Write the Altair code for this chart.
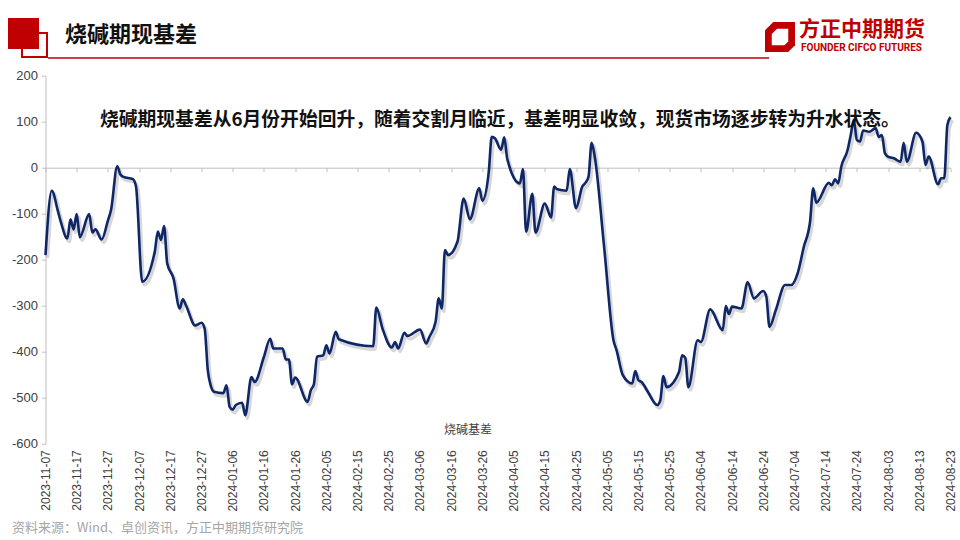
import altair as alt
import pandas as pd

# ---------------- data ----------------
dates = [
    "2023-11-07", "2023-11-09", "2023-11-11", "2023-11-12", "2023-11-14", "2023-11-15", "2023-11-16",
    "2023-11-17", "2023-11-18", "2023-11-21", "2023-11-22", "2023-11-23", "2023-11-25", "2023-11-27",
    "2023-11-28", "2023-11-30", "2023-12-01", "2023-12-02", "2023-12-05", "2023-12-06", "2023-12-08",
    "2023-12-12", "2023-12-13", "2023-12-14", "2023-12-15", "2023-12-16", "2023-12-18", "2023-12-20",
    "2023-12-21", "2023-12-22", "2023-12-25", "2023-12-27", "2023-12-28", "2023-12-29", "2023-12-30",
    "2023-12-31", "2024-01-03", "2024-01-04", "2024-01-05", "2024-01-06", "2024-01-07", "2024-01-09",
    "2024-01-10", "2024-01-12", "2024-01-13", "2024-01-16", "2024-01-18", "2024-01-19", "2024-01-22",
    "2024-01-23", "2024-01-24", "2024-01-25", "2024-01-26", "2024-01-30", "2024-01-31", "2024-02-01",
    "2024-02-02", "2024-02-04", "2024-02-05", "2024-02-06", "2024-02-08", "2024-02-09", "2024-02-20",
    "2024-02-21", "2024-02-23", "2024-02-26", "2024-02-27", "2024-02-28", "2024-03-01", "2024-03-02",
    "2024-03-06", "2024-03-08", "2024-03-09", "2024-03-11", "2024-03-12", "2024-03-13", "2024-03-14",
    "2024-03-15", "2024-03-18", "2024-03-20", "2024-03-22", "2024-03-25", "2024-03-26", "2024-03-28",
    "2024-03-29", "2024-03-30", "2024-04-01", "2024-04-02", "2024-04-03", "2024-04-07", "2024-04-08",
    "2024-04-09", "2024-04-11", "2024-04-12", "2024-04-15", "2024-04-17", "2024-04-18", "2024-04-19",
    "2024-04-22", "2024-04-23", "2024-04-25", "2024-04-27", "2024-04-28", "2024-04-29", "2024-04-30",
    "2024-05-01", "2024-05-04", "2024-05-07", "2024-05-08", "2024-05-10", "2024-05-13", "2024-05-14",
    "2024-05-15", "2024-05-16", "2024-05-18", "2024-05-21", "2024-05-22", "2024-05-23", "2024-05-24",
    "2024-05-28", "2024-05-29", "2024-05-30", "2024-05-31", "2024-06-03", "2024-06-04", "2024-06-07",
    "2024-06-11", "2024-06-12", "2024-06-13", "2024-06-14", "2024-06-17", "2024-06-19", "2024-06-21",
    "2024-06-24", "2024-06-25", "2024-06-26", "2024-06-28", "2024-07-01", "2024-07-03", "2024-07-05",
    "2024-07-07", "2024-07-09", "2024-07-10", "2024-07-11", "2024-07-15", "2024-07-16", "2024-07-17",
    "2024-07-18", "2024-07-19", "2024-07-21", "2024-07-22", "2024-07-23", "2024-07-24", "2024-07-25",
    "2024-07-26", "2024-07-28", "2024-07-30", "2024-07-31", "2024-08-01", "2024-08-02", "2024-08-03",
    "2024-08-05", "2024-08-07", "2024-08-08", "2024-08-09", "2024-08-12", "2024-08-14", "2024-08-15",
    "2024-08-16", "2024-08-19", "2024-08-20", "2024-08-21", "2024-08-22", "2024-08-23",
]
basis = [
    -190, -50, -95, -120, -154, -112, -134,
    -101, -151, -101, -141, -134, -156, -115,
    -92, 3, -15, -20, -25, -41, -248,
    -183, -139, -157, -127, -208, -240, -306,
    -286, -299, -343, -337, -350, -440, -475,
    -487, -490, -473, -520, -526, -516, -511,
    -538, -455, -466, -411, -372, -393, -393,
    -417, -417, -471, -456, -509, -484, -471,
    -411, -408, -386, -404, -357, -373, -388,
    -304, -350, -391, -379, -393, -359, -366,
    -352, -382, -368, -335, -284, -306, -179,
    -190, -161, -67, -112, -45, -72, -12,
    67, 64, 39, 66, 18, -34, -3,
    -139, -57, -141, -78, -108, -41, -47,
    -50, -3, -88, -41, -33, -20, 54,
    24, -172, -375, -397, -451, -469, -442,
    -462, -466, -487, -516, -506, -453, -477,
    -444, -408, -413, -477, -375, -379, -308,
    -353, -301, -318, -302, -306, -249, -284,
    -268, -281, -346, -310, -255, -255, -230,
    -172, -117, -45, -76, -33, -38, -25,
    -34, 2, 38, 70, 104, 60, 57,
    81, 78, 86, 67, 71, 31, 24,
    20, 13, 54, 13, 76, 57, 6,
    24, -36, -23, -23, 93, 110,
]
tick_dates = [
    "2023-11-07", "2023-11-17", "2023-11-27", "2023-12-07", "2023-12-17", "2023-12-27",
    "2024-01-06", "2024-01-16", "2024-01-26", "2024-02-05", "2024-02-15", "2024-02-25",
    "2024-03-06", "2024-03-16", "2024-03-26", "2024-04-05", "2024-04-15", "2024-04-25",
    "2024-05-05", "2024-05-15", "2024-05-25", "2024-06-04", "2024-06-14", "2024-06-24",
    "2024-07-04", "2024-07-14", "2024-07-24", "2024-08-03", "2024-08-13", "2024-08-23",
]
y_ticks = [-600, -500, -400, -300, -200, -100, 0, 100, 200]

title_text = "烧碱期现基差"
note_text = "烧碱期现基差从6月份开始回升，随着交割月临近，基差明显收敛，现货市场逐步转为升水状态。"
series_name = "烧碱基差"
source_text = "资料来源：Wind、卓创资讯，方正中期期货研究院"
brand_cn = "方正中期期货"
brand_en = "FOUNDER CIFCO FUTURES"

# ---------------- layout ----------------
PL, PT = 45.5, 75.7
W, H = 905, 368
RED = "#c00000"
NAVY = "#0f2766"
GREY = "#bfbfbf"

df = pd.DataFrame({"date": pd.to_datetime(dates), "basis": basis})
one = pd.DataFrame({"k": [0]})


def dt(s):
    y, m, d = (int(p) for p in s.split("-"))
    return alt.DateTime(year=y, month=m, date=d)


tick_vals = [dt(s) for s in tick_dates]
x_scale = alt.Scale(domain=[tick_vals[0], tick_vals[-1]], nice=False)
y_scale = alt.Scale(domain=[y_ticks[0], y_ticks[-1]], nice=False)

y_axis = alt.Axis(values=y_ticks, grid=False, domainColor=GREY, tickColor=GREY,
                  tickSize=4, labelFont="Liberation Sans", labelFontSize=13,
                  labelColor="#404040", labelPadding=4, title=None,
                  labelExpr="'' + datum.value")

bottom_axis = alt.Axis(orient="bottom", values=tick_vals, format="%Y-%m-%d",
                       labelAngle=270, labelFont="Liberation Sans", labelFontSize=12,
                       labelColor="#404040", domain=False, ticks=False,
                       labelPadding=6, labelOverlap=False, grid=False, title=None)

zero_axis = alt.Axis(orient="bottom", offset=-(H * 0.75), values=tick_vals,
                     labels=False, domainColor=GREY, tickColor=GREY, tickSize=4,
                     grid=False, title=None)

shadow = alt.Chart(df).mark_line(
    color="#8c8c8c", opacity=0.35, strokeWidth=3.5, interpolate="monotone",
    xOffset=2, yOffset=3
).encode(
    x=alt.X("date:T", scale=x_scale, axis=zero_axis),
    y=alt.Y("basis:Q", scale=y_scale, axis=y_axis),
)

line = alt.Chart(df).mark_line(
    color=NAVY, strokeWidth=2.6, interpolate="monotone"
).encode(
    x=alt.X("date:T", scale=x_scale, axis=bottom_axis),
    y=alt.Y("basis:Q", scale=y_scale, axis=y_axis),
)


def ax(v):
    return alt.value(v - PL)


def ay(v):
    return alt.value(v - PT)


outline_sq = alt.Chart(one).mark_rect(filled=False, stroke=RED, strokeWidth=2).encode(
    x=ax(22), x2=ax(47), y=ay(33), y2=ay(57))
filled_sq = alt.Chart(one).mark_rect(color=RED).encode(
    x=ax(8), x2=ax(39), y=ay(18), y2=ay(49))
red_rule = alt.Chart(one).mark_rule(color=RED, strokeWidth=1.5).encode(
    x=ax(48), x2=ax(769), y=ay(58))

title = alt.Chart(one).mark_text(
    text=title_text, font="Noto Sans CJK SC", fontWeight="bold", fontSize=22,
    align="left", baseline="middle", color="#111111"
).encode(x=ax(65), y=ay(35))

note = alt.Chart(one).mark_text(
    text=note_text, font="Noto Sans CJK SC", fontWeight="bold", fontSize=18.8,
    align="left", baseline="middle", color="#111111"
).encode(x=ax(100), y=ay(120))

legend = alt.Chart(one).mark_text(
    text=series_name, font="Noto Sans CJK SC", fontSize=12,
    align="center", baseline="middle", color="#404040"
).encode(x=ax(468), y=ay(430))

source = alt.Chart(one).mark_text(
    text=source_text, font="Noto Sans CJK SC", fontSize=13,
    align="left", baseline="middle", color="#a6a6a6"
).encode(x=ax(12), y=ay(528))

logo_outer = alt.Chart(one).mark_point(
    shape="M -0.45 -1 L 1 -1 L 1 0.55 L 0.55 1 L -1 1 L -1 -0.45 Z",
    filled=True, fill=RED, stroke=RED, strokeWidth=0, size=900, opacity=1
).encode(x=ax(780), y=ay(37))
logo_inner = alt.Chart(one).mark_point(
    shape="M -0.2 -0.55 L 0.55 -0.55 L 0.55 0.3 L 0.3 0.55 L -0.55 0.55 L -0.55 -0.2 Z",
    filled=True, fill="white", stroke="white", strokeWidth=0, size=900, opacity=1
).encode(x=ax(780), y=ay(37))

brand1 = alt.Chart(one).mark_text(
    text=brand_cn, font="Noto Sans CJK SC", fontWeight="bold", fontSize=21,
    align="left", baseline="middle", color=RED
).encode(x=ax(799), y=ay(30))
brand2 = alt.Chart(one).mark_text(
    text=brand_en, font="Roboto", fontWeight="bold", fontSize=10,
    align="left", baseline="middle", color=RED
).encode(x=ax(801), y=ay(48))

chart = alt.layer(
    shadow, line, outline_sq, filled_sq, red_rule, title, note, legend, source,
    logo_outer, logo_inner, brand1, brand2
).resolve_axis(x="independent").properties(
    width=W, height=H,
    autosize=alt.AutoSizeParams(type="none"),
    padding={"left": PL, "top": PT, "right": 960 - PL - W, "bottom": 540 - PT - H},
    background="white",
).configure_view(stroke=None)

chart.save("out.html", embed_options={"renderer": "svg", "actions": False})
